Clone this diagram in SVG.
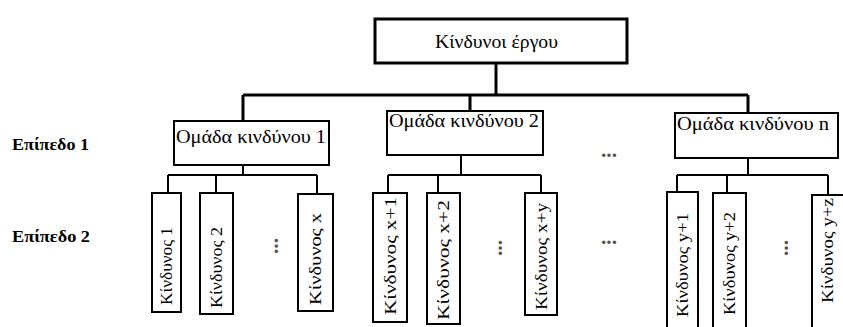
<svg xmlns="http://www.w3.org/2000/svg" width="843" height="327" viewBox="0 0 843 327">
  <style>
    .box { fill: #ffffff; stroke: #000000; stroke-width: 2; }
    .top { fill: #ffffff; stroke: #000000; stroke-width: 3; }
    .main { fill: none; stroke: #000000; stroke-width: 3; }
    .sub { fill: none; stroke: #000000; stroke-width: 2; }
    text { font-family: "Liberation Serif", "DejaVu Serif", serif; fill: #000000; }
    .lbl { font-size: 18px; }
    .lvl { font-size: 17px; font-weight: bold; }
    .risk { font-size: 16px; }
    .dots { font-size: 20px; fill: #555555; font-weight: bold; }
  </style>

  <rect width="843" height="327" fill="#ffffff"/>

  <!-- connectors -->
  <g id="connectors">
    <!-- project level to groups -->
    <path class="main" d="M496 63 V95 M243 95 H748 M243 95 V121 M470 95 V111 M748 95 V113"/>
    <!-- group 1 to its risks -->
    <path class="sub" d="M243 165 V175 M168 175 H317 M168 175 V193 M216 175 V193 M317 175 V194"/>
    <!-- group 2 to its risks -->
    <path class="sub" d="M461 155 V175 M388 175 H541 M388 175 V193 M438 175 V193 M541 175 V193"/>
    <!-- group n to its risks -->
    <path class="sub" d="M748 158 V175 M677 175 H828 M677 175 V192 M727 175 V193 M828 175 V195"/>
  </g>

  <!-- level labels -->
  <text class="lvl" x="12" y="150" textLength="77" lengthAdjust="spacingAndGlyphs">Επίπεδο 1</text>
  <text class="lvl" x="12" y="242" textLength="78" lengthAdjust="spacingAndGlyphs">Επίπεδο 2</text>

  <!-- root -->
  <g id="project-risks">
    <rect class="top" x="375" y="19" width="252" height="44"/>
    <text class="lbl" x="435" y="48" textLength="123" lengthAdjust="spacingAndGlyphs">Κίνδυνοι έργου</text>
  </g>

  <!-- risk groups -->
  <g id="group-1">
    <rect class="box" x="174" y="121" width="155" height="44"/>
    <text class="lbl" x="176" y="143" textLength="150" lengthAdjust="spacingAndGlyphs">Ομάδα κινδύνου 1</text>
  </g>
  <g id="group-2">
    <rect class="box" x="387" y="111" width="156" height="44"/>
    <text class="lbl" x="389" y="127" textLength="150" lengthAdjust="spacingAndGlyphs">Ομάδα κινδύνου 2</text>
  </g>
  <g id="group-n">
    <rect class="box" x="675" y="113" width="163" height="45"/>
    <text class="lbl" x="677" y="130" textLength="152" lengthAdjust="spacingAndGlyphs">Ομάδα κινδύνου n</text>
  </g>

  <!-- ellipses between groups -->
  <text class="dots" x="601" y="157" textLength="16" lengthAdjust="spacingAndGlyphs">...</text>
  <text class="dots" x="601" y="244" textLength="16" lengthAdjust="spacingAndGlyphs">...</text>

  <!-- level 2 risks -->
  <g id="risk-1">
    <rect class="box" x="152" y="193" width="29" height="119"/>
    <text class="risk" transform="translate(172 305) rotate(-90)" textLength="78" lengthAdjust="spacingAndGlyphs">Κίνδυνος 1</text>
  </g>
  <g id="risk-2">
    <rect class="box" x="200" y="193" width="33" height="121"/>
    <text class="risk" transform="translate(222 308) rotate(-90)" textLength="81" lengthAdjust="spacingAndGlyphs">Κίνδυνος 2</text>
  </g>
  <text class="dots" transform="translate(278 254) rotate(-90)" textLength="16" lengthAdjust="spacingAndGlyphs">...</text>
  <g id="risk-x">
    <rect class="box" x="298" y="194" width="35" height="117"/>
    <text class="risk" transform="translate(321 305) rotate(-90)" textLength="92" lengthAdjust="spacingAndGlyphs">Κίνδυνος x</text>
  </g>

  <g id="risk-x1">
    <rect class="box" x="373" y="193" width="34" height="129"/>
    <text class="risk" transform="translate(395.5 315) rotate(-90)" textLength="118" lengthAdjust="spacingAndGlyphs">Κίνδυνος x+1</text>
  </g>
  <g id="risk-x2">
    <rect class="box" x="427" y="193" width="33" height="131"/>
    <text class="risk" transform="translate(449 320) rotate(-90)" textLength="120" lengthAdjust="spacingAndGlyphs">Κίνδυνος x+2</text>
  </g>
  <text class="dots" transform="translate(502 256) rotate(-90)" textLength="16" lengthAdjust="spacingAndGlyphs">...</text>
  <g id="risk-xy">
    <rect class="box" x="525" y="193" width="32" height="122"/>
    <text class="risk" transform="translate(546.5 310) rotate(-90)" textLength="107" lengthAdjust="spacingAndGlyphs">Κίνδυνος x+y</text>
  </g>

  <g id="risk-y1">
    <rect class="box" x="667" y="192" width="31" height="145"/>
    <text class="risk" transform="translate(688 317) rotate(-90)" textLength="104" lengthAdjust="spacingAndGlyphs">Κίνδυνος y+1</text>
  </g>
  <g id="risk-y2">
    <rect class="box" x="713" y="193" width="33" height="145"/>
    <text class="risk" transform="translate(735 315) rotate(-90)" textLength="103" lengthAdjust="spacingAndGlyphs">Κίνδυνος y+2</text>
  </g>
  <text class="dots" transform="translate(788 256) rotate(-90)" textLength="16" lengthAdjust="spacingAndGlyphs">...</text>
  <g id="risk-yz">
    <rect class="box" x="812" y="195" width="40" height="145"/>
    <text class="risk" transform="translate(833 303) rotate(-90)" textLength="105" lengthAdjust="spacingAndGlyphs">Κίνδυνος y+z</text>
  </g>
</svg>
